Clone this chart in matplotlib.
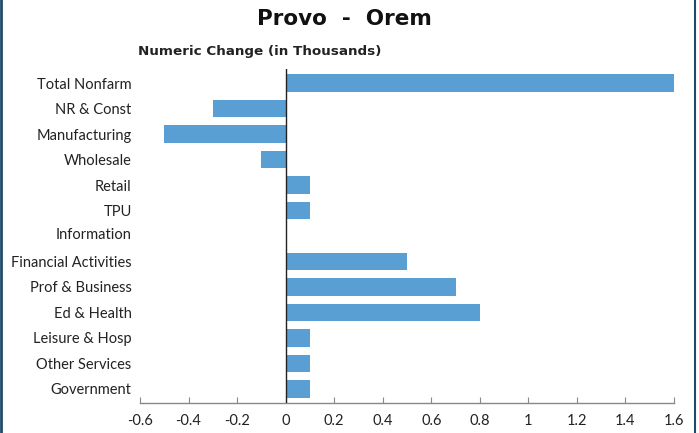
import matplotlib.pyplot as plt
from matplotlib.lines import Line2D
from matplotlib.transforms import ScaledTranslation

plt.rcParams['font.family'] = ['Lato', 'DejaVu Sans']

categories = ['Total Nonfarm', 'NR & Const', 'Manufacturing', 'Wholesale', 'Retail',
              'TPU', 'Information', 'Financial Activities', 'Prof & Business',
              'Ed & Health', 'Leisure & Hosp', 'Other Services', 'Government']
values = [1.6, -0.3, -0.5, -0.1, 0.1, 0.1, 0.0, 0.5, 0.7, 0.8, 0.1, 0.1, 0.1]
xticks = [-0.6, -0.4, -0.2, 0, 0.2, 0.4, 0.6, 0.8, 1, 1.2, 1.4, 1.6]
xtick_labels = ['-0.6', '-0.4', '-0.2', '0', '0.2', '0.4', '0.6', '0.8', '1', '1.2', '1.4', '1.6']

W, H = 699, 433
fig = plt.figure(figsize=(W / 100, H / 100), dpi=100)
ax = fig.add_axes([140 / W, (H - 403) / H, (674 - 140) / W, (403 - 69) / H])

bar_color = '#599fd4'
ypos = list(range(len(categories)))
ax.barh(ypos, values, height=0.7, color=bar_color, zorder=2)

ax.set_xlim(-0.6, 1.6)
ax.set_ylim(len(categories) - 0.45, -0.55)
ax.axvline(0, color='#222222', linewidth=1.0, zorder=3)

ax.set_yticks(ypos)
ax.set_yticklabels(categories, fontsize=10.5, color='#222222')
ax.tick_params(axis='y', length=0, pad=6)
ax.set_xticks(xticks)
ax.set_xticklabels(xtick_labels, fontsize=10.5, color='#222222')
ax.tick_params(axis='x', direction='in', length=4, color='#888888', pad=8)

# the Information label sits a little higher in the original
info = ax.get_yticklabels()[categories.index('Information')]
info.set_transform(info.get_transform() + ScaledTranslation(0, 3 / 100, fig.dpi_scale_trans))

for s in ['top', 'right', 'left']:
    ax.spines[s].set_visible(False)
ax.spines['bottom'].set_color('#888888')
ax.spines['bottom'].set_linewidth(1.0)

fig.text(344 / W, 1 - 19 / H, 'Provo  -  Orem', ha='center', va='center',
         fontsize=15.5, fontweight='bold', color='#111111', family='DejaVu Sans')
fig.text(138 / W, 1 - 52 / H, 'Numeric Change (in Thousands)', ha='left', va='center',
         fontsize=9.7, fontweight='bold', color='#222222', family='DejaVu Sans')

# dark frame edges on the left and right
border = '#1f4a68'
fig.add_artist(Line2D([1 / W, 1 / W], [0, 1], color=border, linewidth=2, transform=fig.transFigure))
fig.add_artist(Line2D([695 / W, 695 / W], [0, 1], color=border, linewidth=1.5, transform=fig.transFigure))

fig.savefig('out.png', dpi=100)
